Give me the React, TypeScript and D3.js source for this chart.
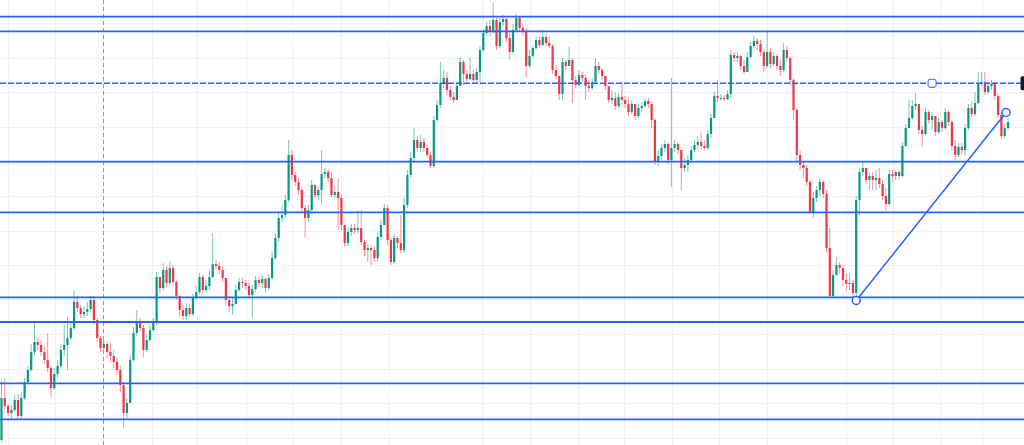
import React from 'react';
import * as d3 from 'd3';

const width = 1024;
const height = 445;

// price is in chart units (bigger = higher on screen)
const firstOpen = 60;
const closes = [
  102, 94, 87, 90, 100, 84, 102, 118, 130, 148, 158, 155, 148, 140, 132, 112, 126, 134, 150, 155,
  162, 172, 198, 192, 186, 188, 191, 200, 180, 162, 152, 156, 148, 144, 138, 130, 115, 87, 97, 140,
  167, 178, 172, 150, 160, 170, 178, 223, 212, 230, 217, 232, 218, 204, 190, 184, 192, 186, 202, 208,
  223, 210, 214, 223, 236, 234, 230, 222, 200, 194, 196, 210, 218, 217, 214, 205, 211, 220, 217, 221,
  212, 222, 242, 262, 282, 285, 300, 345, 325, 318, 310, 292, 282, 290, 315, 305, 310, 326, 328, 322,
  305, 308, 302, 275, 257, 268, 272, 270, 272, 258, 250, 252, 250, 242, 263, 275, 292, 260, 238, 262,
  257, 250, 295, 325, 342, 360, 352, 358, 352, 345, 334, 380, 395, 417, 422, 410, 403, 400, 414, 438,
  426, 421, 426, 420, 428, 450, 467, 474, 468, 480, 454, 478, 481, 462, 448, 470, 482, 472, 468, 434,
  444, 452, 460, 455, 463, 457, 454, 430, 424, 406, 438, 434, 440, 420, 415, 425, 422, 414, 412, 418,
  434, 430, 424, 414, 400, 402, 394, 403, 400, 396, 388, 396, 384, 392, 394, 399, 396, 380, 338, 344,
  352, 356, 340, 352, 356, 350, 332, 335, 340, 350, 355, 358, 354, 352, 366, 382, 404, 402, 402, 401,
  406, 445, 442, 444, 434, 428, 443, 454, 459, 456, 448, 434, 448, 436, 444, 434, 430, 450, 442, 420,
  390, 345, 335, 332, 318, 288, 302, 310, 318, 306, 252, 204, 225, 235, 232, 220, 216, 217, 207, 300,
  328, 332, 320, 324, 320, 322, 316, 304, 296, 326, 324, 328, 324, 354, 372, 382, 394, 396, 370, 366,
  388, 380, 384, 368, 378, 372, 388, 378, 354, 345, 353, 350, 372, 392, 386, 397, 416, 418, 408, 414,
  416, 404, 385, 364, 372, 378,
];
const highs = [
  120, 122, 96, 95, 105, 106, 108, 122, 134, 156, 177, 162, 160, 154, 167, 134, 132, 140, 156, 175,
  183, 178, 210, 204, 195, 194, 198, 204, 204, 182, 164, 160, 158, 157, 150, 142, 134, 118, 102, 145,
  173, 190, 182, 175, 165, 175, 182, 228, 220, 237, 234, 238, 235, 220, 205, 195, 197, 196, 206, 214,
  227, 225, 220, 230, 267, 240, 238, 234, 220, 204, 202, 215, 222, 222, 220, 217, 215, 224, 223, 225,
  222, 226, 248, 267, 288, 295, 305, 360, 350, 328, 322, 312, 295, 295, 320, 315, 314, 350, 332, 330,
  328, 314, 322, 305, 274, 273, 276, 276, 290, 290, 260, 256, 255, 254, 268, 280, 296, 295, 262, 266,
  264, 285, 302, 330, 348, 372, 364, 365, 362, 355, 348, 384, 400, 438, 430, 428, 414, 408, 418, 443,
  440, 430, 443, 430, 432, 454, 471, 478, 480, 497, 482, 482, 485, 482, 470, 476, 486, 484, 476, 472,
  450, 455, 464, 464, 470, 467, 464, 456, 435, 420, 442, 440, 453, 442, 424, 430, 428, 426, 420, 422,
  442, 438, 432, 422, 412, 410, 408, 407, 418, 404, 403, 400, 395, 396, 398, 402, 402, 398, 382, 350,
  356, 360, 358, 422, 360, 358, 350, 342, 345, 354, 360, 364, 368, 360, 370, 386, 408, 420, 406, 405,
  410, 450, 448, 448, 445, 440, 448, 458, 464, 462, 460, 450, 468, 452, 448, 446, 440, 457, 454, 444,
  422, 392, 350, 338, 335, 320, 308, 314, 322, 320, 310, 272, 230, 243, 238, 235, 227, 226, 220, 304,
  332, 338, 330, 328, 328, 330, 332, 320, 312, 330, 330, 330, 330, 358, 376, 400, 400, 407, 396, 374,
  392, 390, 388, 382, 382, 380, 392, 390, 380, 360, 357, 357, 376, 396, 398, 408, 428, 428, 428, 418,
  420, 418, 406, 388, 376, 382,
];
const lows = [
  58, 90, 84, 82, 88, 80, 81, 100, 116, 128, 145, 150, 144, 136, 128, 103, 110, 122, 132, 144,
  130, 160, 170, 188, 182, 182, 184, 188, 176, 158, 148, 150, 142, 138, 132, 125, 108, 72, 82, 100,
  138, 164, 168, 143, 148, 158, 168, 174, 207, 210, 213, 214, 215, 200, 183, 180, 180, 183, 184, 200,
  206, 206, 207, 210, 222, 230, 226, 218, 195, 188, 185, 195, 208, 212, 210, 202, 182, 208, 213, 212,
  208, 210, 220, 240, 258, 278, 282, 298, 320, 314, 305, 288, 263, 278, 286, 302, 300, 295, 322, 318,
  302, 302, 270, 270, 253, 254, 264, 266, 267, 255, 244, 238, 235, 238, 238, 260, 278, 255, 235, 236,
  252, 247, 247, 292, 322, 338, 348, 348, 348, 342, 332, 332, 378, 392, 412, 405, 400, 397, 400, 414,
  415, 418, 420, 417, 417, 417, 448, 465, 464, 466, 450, 452, 474, 458, 440, 446, 468, 468, 464, 422,
  432, 442, 450, 452, 454, 454, 452, 426, 420, 400, 400, 430, 434, 397, 412, 414, 418, 400, 408, 410,
  416, 426, 420, 410, 397, 396, 390, 392, 396, 392, 384, 386, 380, 382, 388, 392, 392, 372, 335, 334,
  340, 348, 336, 313, 348, 346, 310, 328, 328, 338, 348, 350, 350, 350, 350, 362, 382, 398, 400, 399,
  400, 402, 438, 438, 430, 426, 428, 442, 452, 450, 444, 428, 432, 432, 434, 430, 424, 428, 438, 415,
  380, 338, 330, 322, 314, 286, 282, 298, 304, 302, 248, 202, 203, 224, 226, 214, 210, 210, 203, 203,
  285, 324, 316, 310, 310, 310, 312, 300, 290, 294, 318, 320, 320, 322, 354, 372, 380, 390, 366, 353,
  364, 376, 370, 364, 366, 368, 370, 374, 350, 340, 343, 346, 344, 370, 382, 384, 396, 414, 405, 406,
  410, 400, 382, 361, 362, 370,
];

// drawn horizontal levels, the third one is the dashed one with a handle
const levels = [483.3, 468.7, 416.7, 338.3, 287.7, 202.7, 178, 116.7, 80.7];
const dashedLevel = 416.7;
const levelHandleAt = 282;
// trend line anchors: candle index, price
const trendFrom = { i: 259, p: 199.5 };
const trendTo = { i: 304.4, p: 387.5 };

const gridPrices = [476.5, 442, 407.5, 373, 338.5, 304, 269.5, 235, 200.5, 166, 131.5, 97, 62.5];
const gridCandles = [2, 16.2, 30.8, 45.7, 59.3, 74, 88.1, 102.8, 117, 145.7, 160, 174.8, 188.7, 203.1, 217.5, 231.9, 255.8, 270.1, 284.4, 297.2];
const crosshairAt = 30.8;

const upColor = '#089981';
const downColor = '#f23645';
const lineBlue = '#2962ff';

const candles = closes.map((c, i) => {
  const o = i === 0 ? firstOpen : closes[i - 1];
  return {
    o,
    c,
    h: Math.max(highs[i], o, c),
    l: Math.min(lows[i], o, c),
  };
});

const x = d3.scaleLinear().domain([0, closes.length - 1]).range([1.5, 1008]);
const y = d3.scaleLinear().domain([55, 500]).range([height, 0]);

export default function App() {
  const bodyW = 2.2;
  return (
    <svg
      width={width}
      height={height}
      style={{ position: 'absolute', left: 0, top: 0, background: '#fff' }}
    >
      {/* grid */}
      <g stroke='#f0f1f4' strokeWidth={1} shapeRendering='crispEdges'>
        {gridPrices.map((p, k) => (
          <line key={'h' + k} x1={0} x2={width} y1={Math.round(y(p)) + 0.5} y2={Math.round(y(p)) + 0.5} />
        ))}
        {gridCandles.map((c, k) => (
          <line key={'v' + k} x1={Math.round(x(c)) + 0.5} x2={Math.round(x(c)) + 0.5} y1={0} y2={height} />
        ))}
      </g>

      {/* crosshair */}
      <line
        x1={Math.round(x(crosshairAt)) + 0.5}
        x2={Math.round(x(crosshairAt)) + 0.5}
        y1={0}
        y2={height}
        stroke='#9598a1'
        strokeWidth={1}
        strokeDasharray='4 3'
      />

      {/* candles */}
      <g>
        {candles.map((d, i) => {
          const col = d.c >= d.o ? upColor : downColor;
          const top = y(Math.max(d.o, d.c));
          const bot = y(Math.min(d.o, d.c));
          return (
            <g key={i}>
              <line x1={x(i)} x2={x(i)} y1={y(d.h)} y2={y(d.l)} stroke={col} strokeOpacity={0.55} strokeWidth={1} />
              <rect x={x(i) - bodyW / 2} y={top} width={bodyW} height={Math.max(1, bot - top)} fill={col} />
            </g>
          );
        })}
      </g>

      {/* horizontal levels */}
      <g stroke={lineBlue}>
        {levels.map((p, k) => (
          <line
            key={k}
            x1={0}
            x2={width}
            y1={y(p)}
            y2={y(p)}
            strokeDasharray={p === dashedLevel ? '6 2' : undefined}
            strokeWidth={p === dashedLevel ? 1.5 : 1.8}
          />
        ))}
      </g>
      <rect
        x={x(levelHandleAt) - 4}
        y={y(dashedLevel) - 4}
        width={8}
        height={8}
        rx={2}
        fill='#fff'
        stroke={lineBlue}
        strokeWidth={1}
      />
      <rect x={1020.5} y={y(dashedLevel) - 7} width={12} height={14} rx={2} fill='#131722' />

      {/* trend line */}
      <line
        x1={x(trendFrom.i)}
        y1={y(trendFrom.p)}
        x2={x(trendTo.i)}
        y2={y(trendTo.p)}
        stroke={lineBlue}
        strokeWidth={1.5}
      />
      {[trendFrom, trendTo].map((pt, k) => (
        <circle key={k} cx={x(pt.i)} cy={y(pt.p)} r={4} fill='#fff' stroke={lineBlue} strokeWidth={1.5} />
      ))}
    </svg>
  );
}
